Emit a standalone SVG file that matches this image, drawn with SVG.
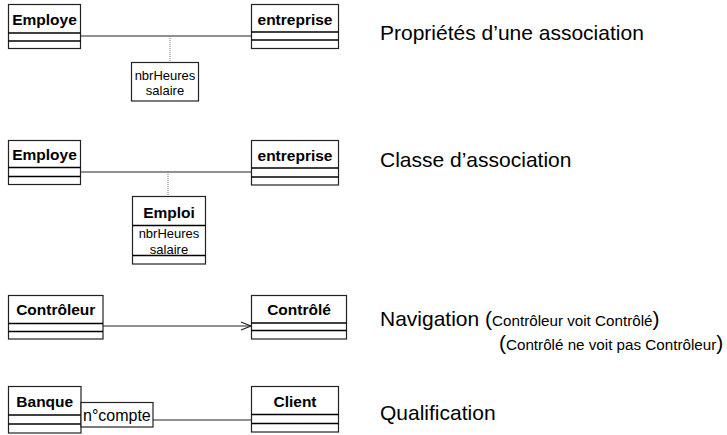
<svg xmlns="http://www.w3.org/2000/svg" width="727" height="435" viewBox="0 0 727 435">
<style>
  .box { fill: #fff; stroke: #222; stroke-width: 1.2; }
  .div { stroke: #000; stroke-width: 1.4; }
  .name { font-family: "Liberation Sans", Arial, sans-serif; font-weight: bold; font-size: 15.5px; text-anchor: middle; fill: #000; }
  .attr { font-family: "Liberation Sans", Arial, sans-serif; font-size: 13px; text-anchor: middle; fill: #000; }
  .qual { font-family: "Liberation Sans", Arial, sans-serif; font-size: 16px; fill: #000; }
  .title { font-family: "Liberation Sans", Arial, sans-serif; font-size: 21px; fill: #000; }
  .small { font-size: 15.2px; }
  .assoc { stroke: #222; stroke-width: 1.2; fill: none; }
  .dot { stroke: #777; stroke-width: 1; stroke-dasharray: 1 1; fill: none; }
</style>

<g id="connectors">
  <line class="assoc" x1="81" y1="36" x2="251" y2="36"/>
  <line class="dot" x1="170" y1="36" x2="170" y2="62"/>
  <line class="assoc" x1="81" y1="172" x2="251" y2="172"/>
  <line class="dot" x1="168" y1="172" x2="168" y2="196"/>
  <line class="assoc" x1="103" y1="326" x2="251" y2="326"/>
  <polyline class="assoc" points="241,322 251,326 241,330"/>
  <line class="assoc" x1="153" y1="420" x2="251" y2="420"/>
</g>

<g id="employe1">
  <rect class="box" x="8.5" y="4.5" width="72" height="44"/>
  <line class="div" x1="8.5" y1="33" x2="80.5" y2="33"/>
  <line class="div" x1="8.5" y1="41" x2="80.5" y2="41"/>
  <text class="name" x="44.5" y="25">Employe</text>
</g>
<g id="entreprise1">
  <rect class="box" x="251.5" y="4.5" width="87" height="44"/>
  <line class="div" x1="251.5" y1="32" x2="338.5" y2="32"/>
  <line class="div" x1="251.5" y1="40" x2="338.5" y2="40"/>
  <text class="name" x="295" y="25">entreprise</text>
</g>
<g id="proprietes">
  <rect class="box" x="131.5" y="62.5" width="67" height="38.5"/>
  <text class="attr" x="165" y="79.5">nbrHeures</text>
  <text class="attr" x="165" y="94.5">salaire</text>
</g>

<g id="employe2">
  <rect class="box" x="8.5" y="140.5" width="72" height="44"/>
  <line class="div" x1="8.5" y1="167.5" x2="80.5" y2="167.5"/>
  <line class="div" x1="8.5" y1="176.5" x2="80.5" y2="176.5"/>
  <text class="name" x="44.5" y="160">Employe</text>
</g>
<g id="entreprise2">
  <rect class="box" x="251.5" y="140.5" width="87" height="44.5"/>
  <line class="div" x1="251.5" y1="168" x2="338.5" y2="168"/>
  <line class="div" x1="251.5" y1="177" x2="338.5" y2="177"/>
  <text class="name" x="295" y="161">entreprise</text>
</g>
<g id="emploi">
  <rect class="box" x="132.5" y="196.5" width="73" height="67.5"/>
  <line class="div" x1="132.5" y1="225.5" x2="205.5" y2="225.5"/>
  <line class="div" x1="132.5" y1="255.5" x2="205.5" y2="255.5"/>
  <text class="name" x="169" y="217.5">Emploi</text>
  <text class="attr" x="169" y="238">nbrHeures</text>
  <text class="attr" x="169" y="253.5">salaire</text>
</g>

<g id="controleur">
  <rect class="box" x="8.5" y="295.5" width="94.5" height="43.5"/>
  <line class="div" x1="8.5" y1="323.5" x2="103" y2="323.5"/>
  <line class="div" x1="8.5" y1="331.5" x2="103" y2="331.5"/>
  <text class="name" x="55.75" y="314.5">Contrôleur</text>
</g>
<g id="controle">
  <rect class="box" x="251.5" y="295.5" width="95" height="43.5"/>
  <line class="div" x1="251.5" y1="323" x2="346.5" y2="323"/>
  <line class="div" x1="251.5" y1="330.5" x2="346.5" y2="330.5"/>
  <text class="name" x="299" y="314.5">Contrôlé</text>
</g>

<g id="banque">
  <rect class="box" x="8.5" y="386.5" width="72.5" height="46.5"/>
  <line class="div" x1="8.5" y1="415" x2="81" y2="415"/>
  <line class="div" x1="8.5" y1="424" x2="81" y2="424"/>
  <text class="name" x="44.75" y="407">Banque</text>
</g>
<g id="qualifier">
  <rect class="box" x="81" y="402.5" width="72" height="24.5"/>
  <text class="qual" x="83" y="421">n°compte</text>
</g>
<g id="client">
  <rect class="box" x="251.5" y="386.5" width="87" height="45.5"/>
  <line class="div" x1="251.5" y1="414.5" x2="338.5" y2="414.5"/>
  <line class="div" x1="251.5" y1="423.5" x2="338.5" y2="423.5"/>
  <text class="name" x="295" y="407">Client</text>
</g>

<g id="labels">
  <text class="title" x="380" y="40">Propriétés d’une association</text>
  <text class="title" x="380" y="167">Classe d’association</text>
  <text class="title" x="380" y="326">Navigation (<tspan class="small">Contrôleur voit Contrôlé</tspan>)</text>
  <text class="title" x="499" y="349.5">(<tspan class="small">Contrôlé ne voit pas Contrôleur</tspan>)</text>
  <text class="title" x="380" y="420">Qualification</text>
</g>
</svg>
